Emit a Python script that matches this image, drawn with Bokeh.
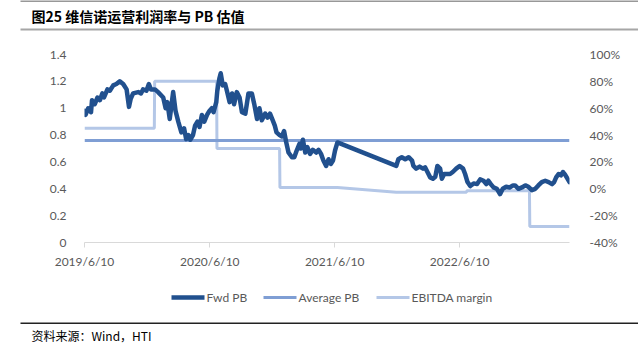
from datetime import datetime
import pandas as pd
from bokeh.plotting import figure
from bokeh.layouts import column
from bokeh.models import Range1d, LinearAxis, FixedTicker, CustomJSTickFormatter
from bokeh.core.properties import value
from bokeh.embed import file_html
from bokeh.resources import INLINE

# ---------------- data ----------------
fwd_dates = [
    "2019-06-10", "2019-06-13", "2019-06-21", "2019-06-29", "2019-07-02", "2019-07-10",
    "2019-07-18", "2019-07-25", "2019-08-01", "2019-08-06", "2019-08-16", "2019-08-23",
    "2019-09-02", "2019-09-11", "2019-09-21", "2019-10-01", "2019-10-11", "2019-10-18",
    "2019-10-23", "2019-10-30", "2019-11-14", "2019-11-22", "2019-11-28", "2019-12-08",
    "2019-12-15", "2019-12-21", "2020-01-02", "2020-01-11", "2020-01-26", "2020-02-02",
    "2020-02-07", "2020-02-14", "2020-02-24", "2020-03-02", "2020-03-10", "2020-03-19",
    "2020-03-27", "2020-04-02", "2020-04-09", "2020-04-14", "2020-04-22", "2020-04-28",
    "2020-05-05", "2020-05-11", "2020-05-18", "2020-05-25", "2020-06-02", "2020-06-09",
    "2020-06-16", "2020-06-21", "2020-06-29", "2020-07-02", "2020-07-08", "2020-07-12",
    "2020-07-18", "2020-07-25", "2020-07-30", "2020-08-07", "2020-08-14", "2020-08-20",
    "2020-08-28", "2020-09-05", "2020-09-12", "2020-09-22", "2020-10-01", "2020-10-11",
    "2020-10-18", "2020-10-26", "2020-11-02", "2020-11-09", "2020-11-19", "2020-11-26",
    "2020-12-03", "2020-12-11", "2020-12-17", "2020-12-22", "2020-12-31", "2021-01-07",
    "2021-01-13", "2021-01-19", "2021-01-26", "2021-02-05", "2021-02-12", "2021-02-19",
    "2021-02-27", "2021-03-03", "2021-03-09", "2021-03-16", "2021-03-22", "2021-03-30",
    "2021-04-07", "2021-04-17", "2021-04-24", "2021-05-01", "2021-05-08", "2021-05-16",
    "2021-05-23", "2021-05-30", "2021-06-05", "2021-06-11", "2021-06-18",
    "2021-12-07", "2021-12-13", "2021-12-23", "2022-01-02", "2022-01-12", "2022-01-22",
    "2022-01-26", "2022-02-03", "2022-02-13", "2022-02-23", "2022-03-01", "2022-03-08",
    "2022-03-16", "2022-03-24", "2022-03-31", "2022-04-06", "2022-04-14", "2022-04-19",
    "2022-04-26", "2022-05-04", "2022-05-13", "2022-05-21", "2022-05-31", "2022-06-10",
    "2022-06-20", "2022-06-26", "2022-07-03", "2022-07-11", "2022-07-21", "2022-07-31",
    "2022-08-09", "2022-08-19", "2022-08-27", "2022-09-02", "2022-09-09", "2022-09-17",
    "2022-09-27", "2022-10-06", "2022-10-14", "2022-10-24", "2022-11-03", "2022-11-13",
    "2022-11-19", "2022-11-29", "2022-12-09", "2022-12-19", "2022-12-28", "2023-01-07",
    "2023-01-17", "2023-01-26", "2023-02-05", "2023-02-15", "2023-02-25", "2023-03-07",
    "2023-03-13", "2023-03-19", "2023-03-26", "2023-04-02", "2023-04-08", "2023-04-14",
    "2023-04-21", "2023-04-27",
]
fwd_pb = [
    0.98, 0.95, 1.00, 0.97, 1.06, 1.03,
    1.08, 1.06, 1.11, 1.08, 1.14, 1.13,
    1.17, 1.18, 1.20, 1.18, 1.14, 1.01,
    1.07, 1.11, 1.12, 1.11, 1.14, 1.13,
    1.18, 1.14, 1.14, 1.12, 1.08, 1.00,
    1.045, 0.92, 1.12, 0.98, 0.90, 0.82,
    0.85, 0.77, 0.80, 0.765, 0.80, 0.87,
    0.90, 0.86, 0.95, 0.90, 0.95, 0.98,
    1.00, 0.97, 1.045, 1.13, 1.22, 1.26,
    1.17, 1.18, 1.13, 1.045, 1.11, 1.03,
    1.12, 1.08, 0.97, 0.96, 1.11, 1.11,
    1.03, 0.92, 1.00, 0.91, 0.96, 0.93,
    0.96, 0.91, 0.87, 0.82, 0.80, 0.79,
    0.83, 0.75, 0.67, 0.635, 0.635, 0.685,
    0.735, 0.70, 0.765, 0.67, 0.71, 0.66,
    0.69, 0.67, 0.69, 0.66, 0.61, 0.57,
    0.62, 0.585, 0.61, 0.685, 0.745,
    0.57, 0.62, 0.635, 0.62, 0.635, 0.61,
    0.57, 0.55, 0.565, 0.55, 0.56, 0.525,
    0.485, 0.475, 0.49, 0.57, 0.55, 0.475,
    0.51, 0.51, 0.51, 0.525, 0.55, 0.57,
    0.55, 0.51, 0.45, 0.42, 0.44, 0.435,
    0.47, 0.46, 0.435, 0.46, 0.435, 0.41,
    0.40, 0.36, 0.40, 0.415, 0.41, 0.425,
    0.425, 0.40, 0.41, 0.425, 0.415, 0.39,
    0.40, 0.425, 0.45, 0.46, 0.45, 0.435,
    0.45, 0.485, 0.51, 0.50, 0.525, 0.505,
    0.475, 0.45,
]

avg_pb_dates = ["2019-06-10", "2023-04-27"]
avg_pb = [0.76, 0.76]

ebitda_dates = [
    "2019-06-10", "2019-12-31", "2020-01-01", "2020-06-30", "2020-07-01", "2020-12-31",
    "2021-01-01", "2021-06-18", "2021-12-07", "2022-06-30", "2022-07-01", "2022-12-31",
    "2023-01-01", "2023-04-27",
]
ebitda_margin = [45, 45, 80, 80, 30, 30, 1, 1, -2.5, -2.5, -1.5, -1.5, -28, -28]

x_tick_dates = ["2019-06-10", "2020-06-10", "2021-06-10", "2022-06-10"]
left_ticks = [0, 0.2, 0.4, 0.6, 0.8, 1.0, 1.2, 1.4]
right_ticks = [-40, -20, 0, 20, 40, 60, 80, 100]

series_names = ["Fwd PB", "Average PB", "EBITDA margin"]
title_text = "图25 维信诺运营利润率与 PB 估值"
source_text = "资料来源：Wind，HTI"

# ---------------- styling ----------------
W = 638
C_FWD, C_AVG, C_EBITDA = "#21508E", "#7F9ED4", "#B4C7E7"
label_color = "#595959"
tick_font = "Lato"


def to_dt(lst):
    return [pd.Timestamp(s).to_pydatetime() for s in lst]


def blank_fig(h):
    f = figure(width=W, height=h, output_backend="svg", toolbar_location=None,
               x_range=Range1d(0, W), y_range=Range1d(h, 0),
               x_axis_location=None, y_axis_location=None,
               min_border_left=0, min_border_right=0, min_border_top=0, min_border_bottom=0)
    f.frame_align = False
    f.outline_line_color = None
    f.xgrid.visible = False
    f.ygrid.visible = False
    f.border_fill_color = "white"
    f.background_fill_color = "white"
    return f


# ---- title strip (canvas y 0..34) ----
TH = 34
ft = blank_fig(TH)
ft.quad(left=[20], right=[W], top=[0], bottom=[1], fill_color="#333333", line_color=None)
ft.quad(left=[20], right=[W], top=[28], bottom=[30], fill_color="#A6A6A6", line_color=None)
ft.text(x=[31], y=[15], text=[title_text], text_font=value("Noto Sans CJK SC"),
        text_font_style="bold", text_font_size="14px", text_color="#000000",
        text_baseline="middle", text_align="left")

# ---- main chart (canvas y 34..280) ----
MH = 246
FL, FR, FT, FB = 84, 569, 54 - TH, 242 - TH
p = figure(width=W, height=MH, output_backend="svg", toolbar_location=None,
           x_axis_type="datetime",
           x_range=Range1d(datetime(2019, 6, 10), datetime(2023, 4, 27)),
           y_range=Range1d(0, 1.4),
           min_border_left=FL, min_border_right=W - FR,
           min_border_top=FT, min_border_bottom=MH - FB)
p.frame_align = False
p.extra_y_ranges = {"pct": Range1d(-40, 100)}
p.outline_line_color = None
p.background_fill_color = "white"
p.border_fill_color = "white"
p.xgrid.visible = False
p.ygrid.visible = False

xa = p.xaxis[0]
xa.ticker = FixedTicker(ticks=[pd.Timestamp(d).value / 1e6 for d in x_tick_dates])
xa.formatter = CustomJSTickFormatter(code="""
const d = new Date(tick);
return d.getUTCFullYear() + '/' + (d.getUTCMonth() + 1) + '/' + d.getUTCDate();
""")
xa.axis_line_color = "#D9D9D9"
xa.major_tick_line_color = "#D9D9D9"
xa.major_tick_out = 5
xa.major_tick_in = 0
xa.minor_tick_line_color = None
xa.major_label_text_color = label_color
xa.major_label_text_font = tick_font
xa.major_label_text_font_size = "12px"
xa.major_label_standoff = 6

ya = p.yaxis[0]
ya.ticker = FixedTicker(ticks=left_ticks)
ya.formatter = CustomJSTickFormatter(code="return (Math.round(tick*10)/10).toString();")
ya.axis_line_color = None
ya.major_tick_line_color = None
ya.minor_tick_line_color = None
ya.major_label_text_color = label_color
ya.major_label_text_font = tick_font
ya.major_label_text_font_size = "12px"
ya.major_label_standoff = 12

ra = LinearAxis(y_range_name="pct", ticker=FixedTicker(ticks=right_ticks),
                formatter=CustomJSTickFormatter(code="return Math.round(tick) + '%';"))
ra.axis_line_color = None
ra.major_tick_line_color = None
ra.minor_tick_line_color = None
ra.major_label_text_color = label_color
ra.major_label_text_font = tick_font
ra.major_label_text_font_size = "12px"
ra.major_label_standoff = 14
p.add_layout(ra, "right")

p.line(to_dt(ebitda_dates), ebitda_margin, y_range_name="pct",
       line_color=C_EBITDA, line_width=3)
p.line(to_dt(avg_pb_dates), avg_pb, line_color=C_AVG, line_width=3)
p.line(to_dt(fwd_dates), fwd_pb, line_color=C_FWD, line_width=4.5,
       line_join="round", line_cap="round")

# ---- legend + source strip (canvas y 280..354) ----
BH = 74
fb = blank_fig(BH)
LY = 17
sample_x0 = [171, 263, 376]
sample_w = 33
fb.segment(x0=[sample_x0[0]], y0=[LY], x1=[sample_x0[0] + sample_w], y1=[LY],
           line_color=C_FWD, line_width=4.5)
fb.segment(x0=[sample_x0[1]], y0=[LY], x1=[sample_x0[1] + sample_w], y1=[LY],
           line_color=C_AVG, line_width=3)
fb.segment(x0=[sample_x0[2]], y0=[LY], x1=[sample_x0[2] + sample_w], y1=[LY],
           line_color=C_EBITDA, line_width=3)
fb.text(x=[x + sample_w + 2 for x in sample_x0], y=[LY] * 3, text=series_names,
        text_font=value(tick_font), text_font_size="12px", text_color=label_color,
        text_baseline="middle", text_align="left")
fb.quad(left=[20], right=[W], top=[42], bottom=[43.5], fill_color="#222222", line_color=None)
fb.text(x=[31], y=[55], text=[source_text], text_font=value("Noto Sans CJK SC"),
        text_font_size="12px", text_color="#000000",
        text_baseline="middle", text_align="left")

layout = column(ft, p, fb, spacing=0)
open("out.html", "w").write(file_html(layout, INLINE))
